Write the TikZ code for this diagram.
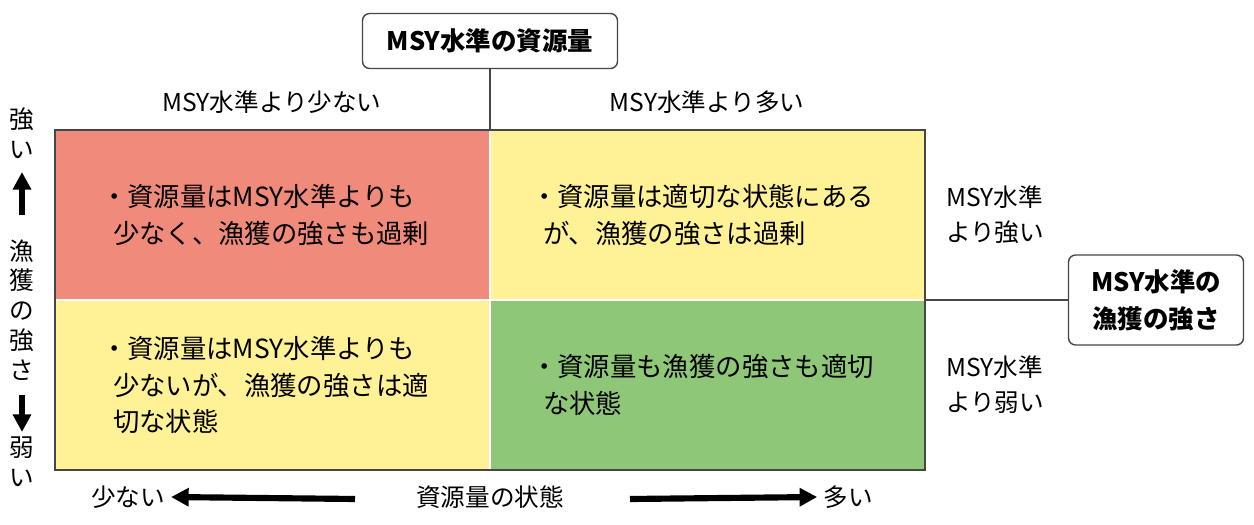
\documentclass[tikz,border=0pt]{standalone}
\usepackage{fontspec}
\setmainfont{Noto Sans CJK JP}
\usetikzlibrary{positioning,arrows.meta}
\definecolor{colred}{RGB}{240,138,122}
\definecolor{colyel}{RGB}{255,241,150}
\definecolor{colgrn}{RGB}{142,199,120}
\definecolor{colline}{RGB}{70,70,70}
\tikzstyle{txt}=[align=left, font=\fontsize{15}{21}\selectfont, anchor=west]
\tikzstyle{lab}=[font=\fontsize{14}{20}\selectfont]
\tikzstyle{vlab}=[align=center, font=\fontsize{14}{17}\selectfont, inner sep=1pt]
\tikzstyle{hbox}=[draw=colline, rounded corners=4pt, fill=white, align=center, font=\bfseries\fontsize{14.5}{21}\selectfont, inner sep=8pt, line width=0.8pt]
\tikzstyle{arr}=[-{Triangle[length=10pt,width=10pt]}, line width=3.5pt]
\begin{document}
\begin{tikzpicture}[x=0.02cm,y=-0.02cm]
    \useasboundingbox (0,0) rectangle (1254,524);
    % cells
    \fill[colred] (55,130) rectangle (490,300);
    \fill[colyel] (490,130) rectangle (925,300);
    \fill[colyel] (55,300) rectangle (490,470);
    \fill[colgrn] (490,300) rectangle (925,470);
    \draw[white, line width=1pt] (490,130) -- (490,470) (55,300) -- (925,300);
    \draw[colline, line width=1.2pt] (55,130) rectangle (925,470);
    % headers
    \node [hbox, minimum width=5.1cm, minimum height=1.1cm] (top) at (490,41) {MSY水準の資源量};
    \node [hbox, minimum width=3.5cm, minimum height=1.8cm] (right) at (1156,300) {MSY水準の\\漁獲の強さ};
    \coordinate (tgrid) at (490,130);
    \coordinate (rgrid) at (925,300);
    \draw[colline, line width=0.8pt] (top) -- (tgrid);
    \draw[colline, line width=0.8pt] (rgrid) -- (right);
    \node [lab] (less) at (272,102) {MSY水準より少ない};
    \node [lab] (more) at (707,102) {MSY水準より多い};
    \node [lab, align=left] (strong) at (995,215) {MSY水準\\より強い};
    \node [lab, align=left] (weak) at (995,385) {MSY水準\\より弱い};
    % cell texts
    \node [txt] (c1) at (95,215) {・資源量はMSY水準よりも\\\ \ 少なく、漁獲の強さも過剰};
    \node [txt] (c2) at (525,215) {・資源量は適切な状態にある\\\ \ が、漁獲の強さは過剰};
    \node [txt] (c3) at (95,385) {・資源量はMSY水準よりも\\\ \ 少ないが、漁獲の強さは適\\\ \ 切な状態};
    \node [txt] (c4) at (525,385) {・資源量も漁獲の強さも適切\\\ \ な状態};
    % left axis
    \node [vlab] (ytop) at (22,133) {強\\い};
    \node [vlab] (ymid) at (22,310) {漁\\獲\\の\\強\\さ};
    \node [vlab] (ybot) at (22,462) {弱\\い};
    \coordinate (up0) at (22,215);
    \coordinate (up1) at (22,172);
    \coordinate (dn0) at (22,395);
    \coordinate (dn1) at (22,432);
    \draw[arr] (up0) -- (up1);
    \draw[arr] (dn0) -- (dn1);
    % bottom axis
    \node [lab] (xl) at (128,497) {少ない};
    \node [lab] (xm) at (490,497) {資源量の状態};
    \node [lab] (xr) at (848,497) {多い};
    \coordinate (ls) at (355,499);
    \coordinate (rs) at (630,499);
    \draw[arr] (ls) -- (xl.east);
    \draw[arr] (rs) -- (xr.west);
\end{tikzpicture}
\end{document}
